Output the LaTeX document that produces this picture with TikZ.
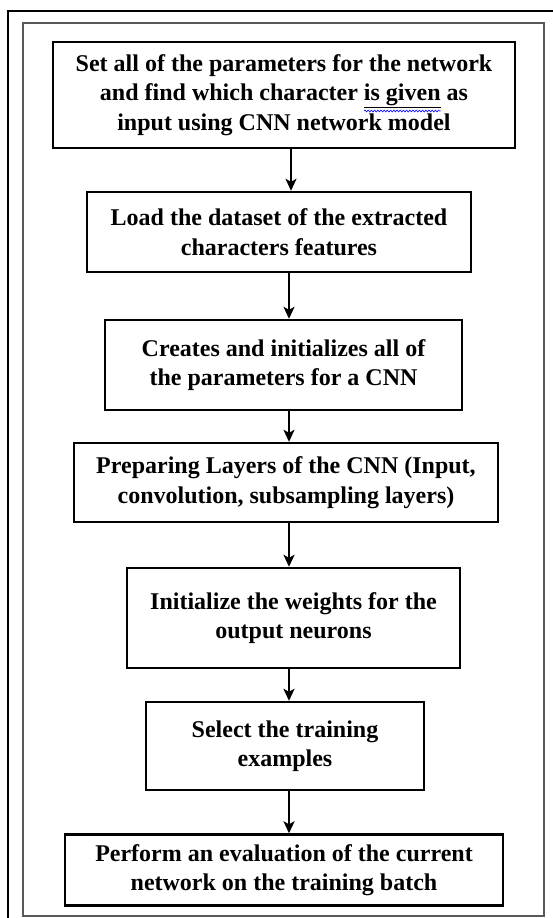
\documentclass[tikz,border=0pt]{standalone}
\usepackage{fontspec}
\setmainfont{Liberation Serif}
\usetikzlibrary{arrows.meta,decorations.pathmorphing}
\newcommand\boxfont{\fontsize{24}{29.5}\selectfont\bfseries}
\tikzset{
  stepbox/.style={draw=black, line width=2.4pt, inner sep=0pt, align=center,
    font=\boxfont},
  arr/.style={-{Stealth[length=12pt,width=11pt,inset=3pt]}, line width=2pt},
  arrthick/.style={-{Stealth[length=12pt,width=11pt,inset=3pt]}, line width=2.8pt},
  outerframe/.style={draw=black, line width=1.5pt},
  innerframe/.style={draw=black!65, line width=1.4pt},
  spellwave/.style={draw=blue, line width=0.6pt, decorate,
    decoration={snake, segment length=3.2pt, amplitude=0.9pt}},
}
\begin{document}
\begin{tikzpicture}[x=1pt,y=-1pt]
\useasboundingbox (0,0) rectangle (552,918);
\fill[white] (0,0) rectangle (552,918);
\draw[outerframe] (8,11) rectangle (580,940);
\draw[innerframe] (23,23) rectangle (544,916);

\node[stepbox, minimum width=462pt, minimum height=106pt] (b1) at (284,95)
  {Set all of the parameters for the network\\and find which character \underline{is given} as\\input using CNN network model};
\node[stepbox, minimum width=384pt, minimum height=80pt] (b2) at (279,232)
  {Load the dataset of the extracted\\characters features};
\node[stepbox, minimum width=357pt, minimum height=90pt] (b3) at (283.5,365)
  {Creates and initializes all of\\the parameters for a CNN};
\node[stepbox, minimum width=424pt, minimum height=79pt] (b4) at (286,482.5)
  {Preparing Layers of the CNN (Input,\\convolution, subsampling layers)};
\node[stepbox, minimum width=333pt, minimum height=100pt] (b5) at (293.5,618)
  {Initialize the weights for the\\output neurons};
\node[stepbox, minimum width=278pt, minimum height=88pt] (b6) at (285,746)
  {Select the training\\examples};
\node[stepbox, minimum width=438pt, minimum height=71pt] (b7) at (284,870)
  {Perform an evaluation of the current\\network on the training batch};

% spell-check wave under "is given"
\begingroup
\boxfont
\pgfmathsetmacro{\wline}{width("and find which character is given as")}
\pgfmathsetmacro{\wpre}{width("and find which character ")}
\pgfmathsetmacro{\wword}{width("is given")}
\global\let\wline\wline
\global\let\wpre\wpre
\global\let\wword\wword
\endgroup
\path (b1.center) ++({-\wline/2+\wpre},16) coordinate (wvA) ++(\wword,0) coordinate (wvB);
\draw[spellwave] (wvA) -- (wvB);

\coordinate (ax1) at (291,0);
\coordinate (ax) at (289,0);
\draw[arr] (b1.south -| ax1) -- (b2.north -| ax1);
\draw[arr] (b2.south -| ax) -- (b3.north -| ax);
\draw[arr] (b3.south -| ax) -- (b4.north -| ax);
\draw[arrthick] (b4.south -| ax) -- (b5.north -| ax);
\draw[arrthick] (b5.south -| ax) -- (b6.north -| ax);
\draw[arrthick] (b6.south -| ax) -- (b7.north -| ax);
\end{tikzpicture}
\end{document}
